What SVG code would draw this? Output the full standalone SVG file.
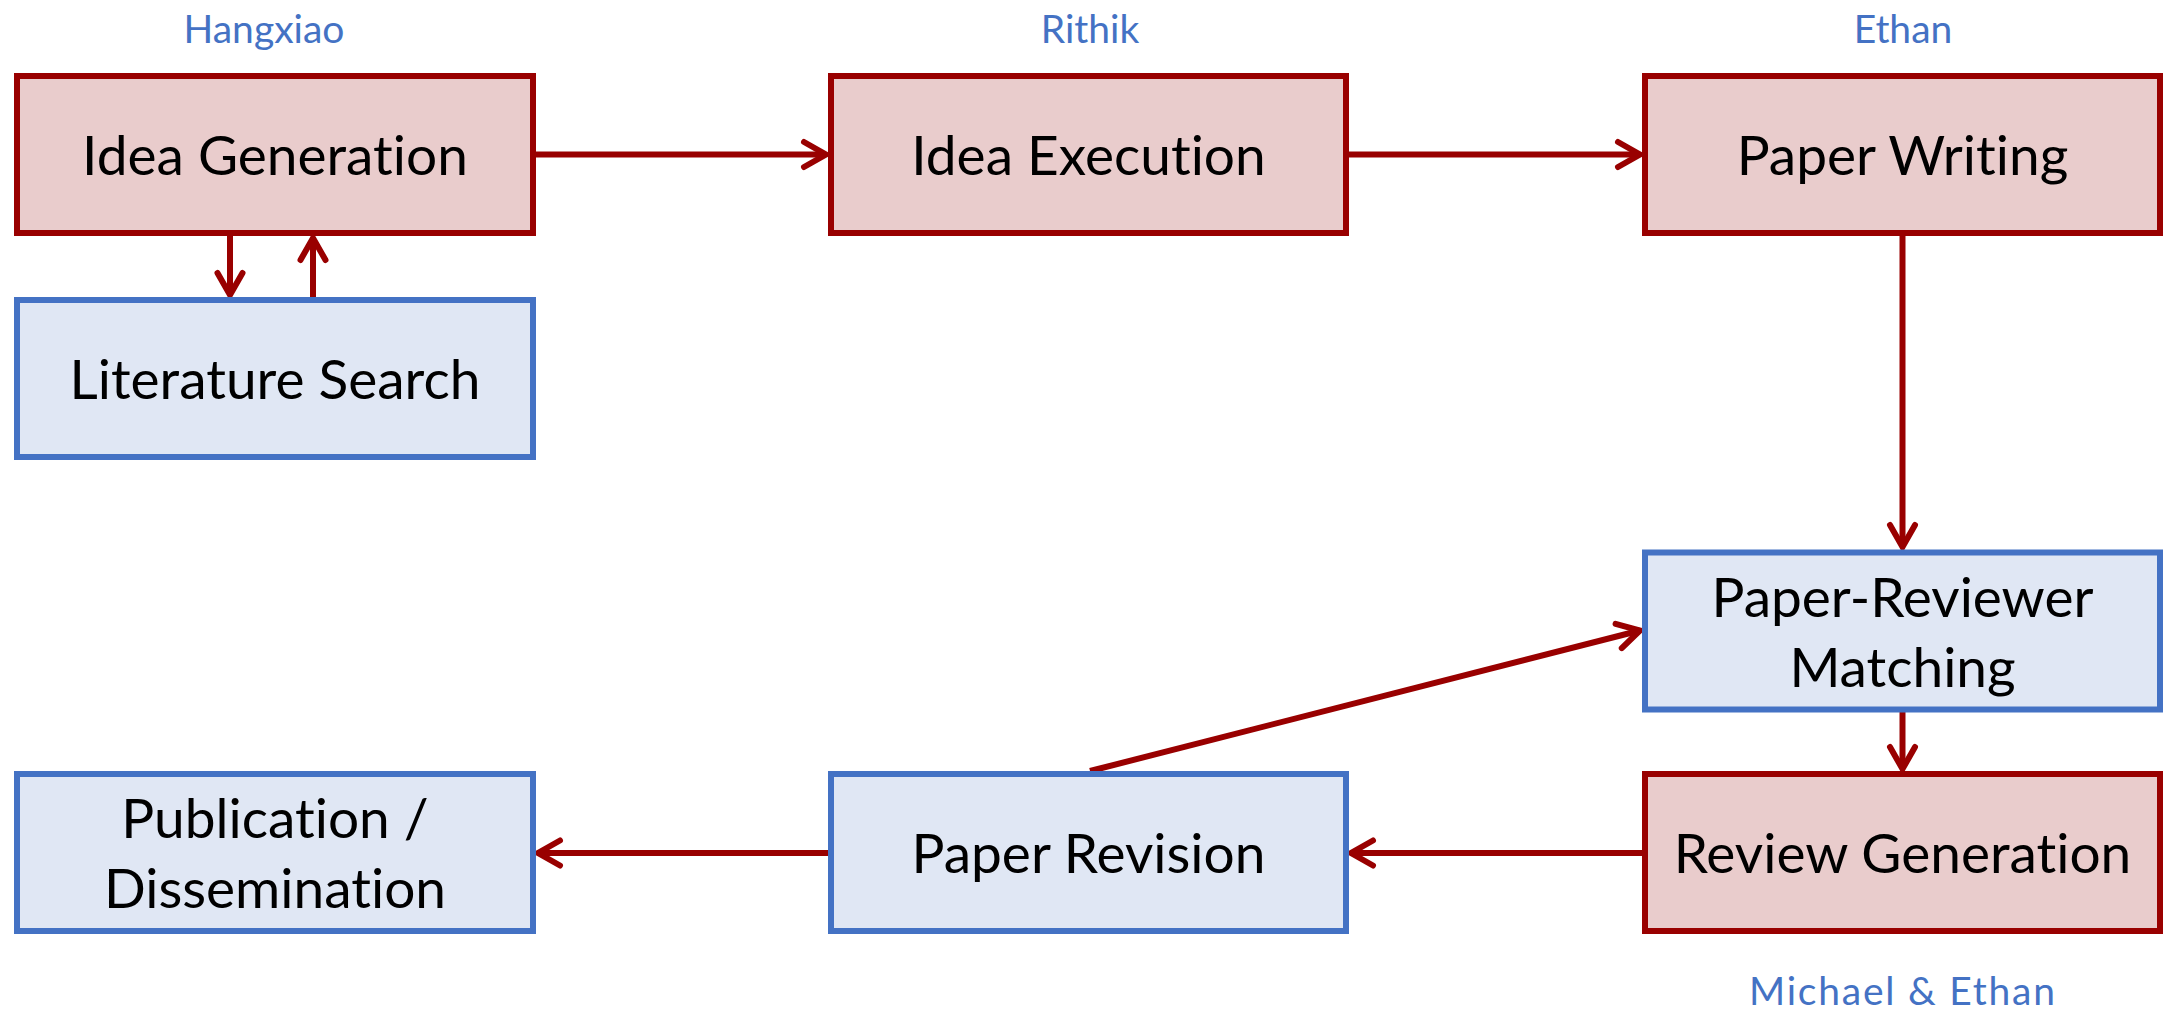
<svg xmlns="http://www.w3.org/2000/svg" width="2165" height="1012" viewBox="0 0 2165 1012">
  <style>
    .red rect { fill: #E9CCCC; stroke: #990000; stroke-width: 6; }
    .blue rect { fill: #E0E7F4; stroke: #4472C4; stroke-width: 6; }
    .node text { font-family: "Lato", "Open Sans", sans-serif; font-size: 55px; fill: #000; text-anchor: middle; font-variant-ligatures: none; }
    .who { font-family: "Lato", "Open Sans", sans-serif; font-size: 39px; fill: #4472C4; text-anchor: middle; font-variant-ligatures: none; }
    #connectors line { stroke: #990000; stroke-width: 6; fill: none; marker-end: url(#head); }
  </style>
  <defs>
    <marker id="head" markerUnits="userSpaceOnUse" markerWidth="40" markerHeight="40" viewBox="-30 -20 40 40" refX="0" refY="0" orient="auto">
      <path d="M -22,-12.5 L 0,0 L -22,12.5" fill="none" stroke="#990000" stroke-width="6" stroke-linecap="round" stroke-linejoin="miter"/>
    </marker>
  </defs>
  <rect width="2165" height="1012" fill="#fff"/>

  <!-- owner labels -->
  <text class="who" x="264" y="43">Hangxiao</text>
  <text class="who" x="1090" y="43">Rithik</text>
  <text class="who" x="1903" y="43">Ethan</text>
  <text class="who" x="1902" y="1005" textLength="306" lengthAdjust="spacing">Michael &amp; Ethan</text>

  <!-- connectors -->
  <g id="connectors">
    <line x1="536" y1="154.5" x2="826" y2="154.5"/>
    <line x1="1349" y1="154.5" x2="1640" y2="154.5"/>
    <line x1="230" y1="236" x2="230" y2="295"/>
    <line x1="313" y1="297" x2="313" y2="238"/>
    <line x1="1902.5" y1="236" x2="1902.5" y2="547"/>
    <line x1="1902.5" y1="712" x2="1902.5" y2="769"/>
    <line x1="1642" y1="853" x2="1351" y2="853"/>
    <line x1="828" y1="853" x2="538" y2="853"/>
    <line x1="1090" y1="771" x2="1640" y2="630.5"/>
  </g>

  <!-- nodes -->
  <g id="idea-generation" class="node red">
    <rect x="17" y="76" width="516" height="157"/>
    <text x="275" y="175">Idea Generation</text>
  </g>
  <g id="idea-execution" class="node red">
    <rect x="831" y="76" width="515" height="157"/>
    <text x="1088.5" y="175">Idea Execution</text>
  </g>
  <g id="paper-writing" class="node red">
    <rect x="1645" y="76" width="515" height="157"/>
    <text x="1902.5" y="175">Paper Writing</text>
  </g>
  <g id="literature-search" class="node blue">
    <rect x="17" y="300" width="516" height="157"/>
    <text x="275" y="399">Literature Search</text>
  </g>
  <g id="paper-reviewer-matching" class="node blue">
    <rect x="1645" y="552.5" width="515" height="157"/>
    <text x="1902.5" y="617">Paper-Reviewer</text>
    <text x="1902.5" y="687">Matching</text>
  </g>
  <g id="review-generation" class="node red">
    <rect x="1645" y="774" width="515" height="157"/>
    <text x="1902.5" y="873">Review Generation</text>
  </g>
  <g id="paper-revision" class="node blue">
    <rect x="831" y="774" width="515" height="157"/>
    <text x="1088.5" y="873">Paper Revision</text>
  </g>
  <g id="publication" class="node blue">
    <rect x="17" y="774" width="516" height="157"/>
    <text x="275" y="838">Publication /</text>
    <text x="275" y="908">Dissemination</text>
  </g>
</svg>
